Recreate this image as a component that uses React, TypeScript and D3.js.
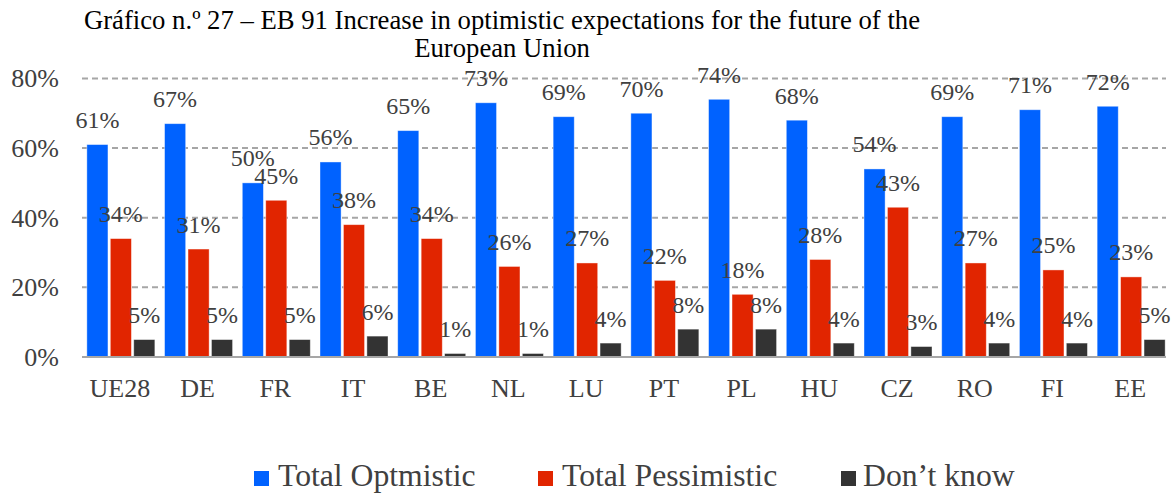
import React from "react";
import * as d3 from "d3";

const categories = ["UE28", "DE", "FR", "IT", "BE", "NL", "LU", "PT", "PL", "HU", "CZ", "RO", "FI", "EE"];
const optimistic = [61, 67, 50, 56, 65, 73, 69, 70, 74, 68, 54, 69, 71, 72];
const pessimistic = [34, 31, 45, 38, 34, 26, 27, 22, 18, 28, 43, 27, 25, 23];
const dontKnow = [5, 5, 5, 6, 1, 1, 4, 8, 8, 4, 3, 4, 4, 5];
const seriesNames = ["Total Optmistic", "Total Pessimistic", "Don\u2019t know"];
const seriesColors = ["#0062FF", "#E12500", "#333333"];
const yTicks = [0, 20, 40, 60, 80];
const titleLines = [
  "Gr\u00e1fico n.\u00ba 27 \u2013 EB 91 Increase in optimistic expectations for the future of the",
  "European Union",
];

const W = 1176;
const H = 495;
const FONT = "'Liberation Serif', 'Times New Roman', serif";

function T(props: {
  x: number;
  y: number;
  size: number;
  anchor?: string;
  fill?: string;
  children: React.ReactNode;
}) {
  const { x, y, size, anchor = "start", fill = "#404040", children } = props;
  return (
    <text x={x} y={y} fontFamily={FONT} fontSize={size} textAnchor={anchor} fill={fill}>
      {children}
    </text>
  );
}

export default function App() {
  const left = 82;
  const right = 1170;
  const y0 = 357;
  const y80 = 78.4;

  const x = d3
    .scaleBand<string>()
    .domain(categories)
    .range([left, right])
    .paddingInner(0.125)
    .paddingOuter(0.0625);
  const inner = d3
    .scaleBand<number>()
    .domain([0, 1, 2])
    .range([0, x.bandwidth()])
    .paddingInner(0.1)
    .paddingOuter(0);
  const y = d3.scaleLinear().domain([0, 80]).range([y0, y80]);

  const series = [optimistic, pessimistic, dontKnow];

  const legendItems = [
    { sq: 254, tx: 278 },
    { sq: 538, tx: 562 },
    { sq: 841, tx: 863 },
  ];

  return (
    <svg width={W} height={H} style={{ position: "absolute", left: 0, top: 0, background: "#fff" }}>
      <rect x={0} y={0} width={W} height={H} fill="#fff" />
      {titleLines.map((t, i) => (
        <T key={i} x={502} y={29 + i * 28} size={26.7} anchor="middle" fill="#000">
          {t}
        </T>
      ))}
      {yTicks.map((v) =>
        v === 0 ? null : (
          <line
            key={v}
            x1={left}
            x2={1166}
            y1={y(v)}
            y2={y(v)}
            stroke="#A6A6A6"
            strokeWidth={2}
            strokeDasharray="6,4"
          />
        )
      )}
      {yTicks.map((v) => (
        <T key={"t" + v} x={59} y={y(v) + 9} size={26} anchor="end">
          {v}%
        </T>
      ))}
      {categories.map((c, ci) => (
        <g key={c}>
          {series.map((s, si) => {
            const bx = (x(c) as number) + (inner(si) as number);
            const bw = inner.bandwidth();
            return (
              <g key={si}>
                <rect
                  x={bx}
                  y={y(s[ci])}
                  width={bw}
                  height={y0 - y(s[ci])}
                  fill={seriesColors[si]}
                  stroke="#ffffff"
                  strokeOpacity={0.5}
                  strokeWidth={0.8}
                />
                <T x={bx + bw / 2} y={y(s[ci]) - 16.5} size={24} anchor="middle">
                  {s[ci]}%
                </T>
              </g>
            );
          })}
          <T x={(x(c) as number) + x.bandwidth() / 2 - 1} y={397} size={26} anchor="middle">
            {c}
          </T>
        </g>
      ))}
      <line x1={left} x2={1166} y1={y0} y2={y0} stroke="#A6A6A6" strokeWidth={2} />
      {seriesNames.map((n, i) => (
        <g key={n}>
          <rect x={legendItems[i].sq} y={471} width={15} height={15} fill={seriesColors[i]} />
          <T x={legendItems[i].tx} y={486} size={31.7}>
            {n}
          </T>
        </g>
      ))}
    </svg>
  );
}
